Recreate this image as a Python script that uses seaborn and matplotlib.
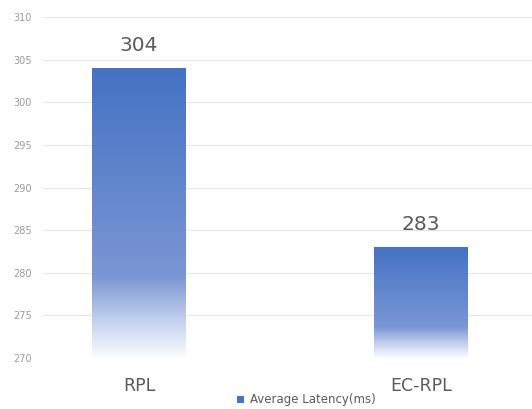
import numpy as np
import pandas as pd
import matplotlib
matplotlib.use("Agg")
import matplotlib.pyplot as plt
import seaborn as sns
from matplotlib.colors import LinearSegmentedColormap
from matplotlib.patches import Patch

categories = ["RPL", "EC-RPL"]
latency = [304, 283]
series_name = "Average Latency(ms)"
yticks = [270, 275, 280, 285, 290, 295, 300, 305, 310]

sns.set_theme(style="white")
plt.rcParams['font.family'] = ['DejaVu Sans']

df = pd.DataFrame({"cat": categories, "val": latency})

fig = plt.figure(figsize=(5.32, 4.09), dpi=100)
ax = fig.add_axes([43/532, 51/409, 1 - 43/532, (392-51)/409])

sns.barplot(data=df, x="cat", y="val", ax=ax, width=0.33, color="#4472C4",
            zorder=3)

ax.set_ylim(270, 310)
ax.set_xlim(-0.34, 1.394)
ax.set_yticks(yticks)
ax.set_yticklabels([str(t) for t in yticks], fontsize=7, color="#9a9a9a")
ax.yaxis.grid(True, color="#e6e6e6", linewidth=0.8, zorder=0)
ax.set_axisbelow(True)
for s in ax.spines.values():
    s.set_visible(False)
ax.tick_params(axis="y", length=0, pad=8)
ax.tick_params(axis="x", length=0, pad=14, labelsize=12.5, labelcolor="#595959")
ax.set_xlabel("")
ax.set_ylabel("")

cmap = LinearSegmentedColormap.from_list(
    "grad", [(0.0, "#4472C4"), (0.72, "#7b96d4"), (0.88, "#c7d3ef"), (1.0, "#fbfcff")])
grad = np.linspace(0, 1, 256).reshape(-1, 1)

for p, v in zip(ax.patches, latency):
    x0, y0 = p.get_x(), p.get_y()
    w, h = p.get_width(), p.get_height()
    p.set_facecolor("none")
    p.set_edgecolor("none")
    im = ax.imshow(grad, cmap=cmap, aspect="auto", origin="upper",
                   extent=[x0, x0 + w, 270, v], zorder=3)
    im.set_clip_path(p)
    ax.text(x0 + w / 2, v + 1.5, str(v), ha="center", va="bottom",
            fontsize=14.5, color="#595959")

ax.set_xlim(-0.34, 1.394)
ax.set_ylim(270, 310)

handles = [Patch(facecolor="#4472C4", edgecolor="none", label=series_name)]
fig.legend(handles=handles, loc="center", bbox_to_anchor=(306/532, 1 - 400/409),
           frameon=False, fontsize=8.5, handlelength=0.6, handleheight=0.6,
           handletextpad=0.5, labelcolor="#595959")

fig.savefig("out.png", dpi=100)
